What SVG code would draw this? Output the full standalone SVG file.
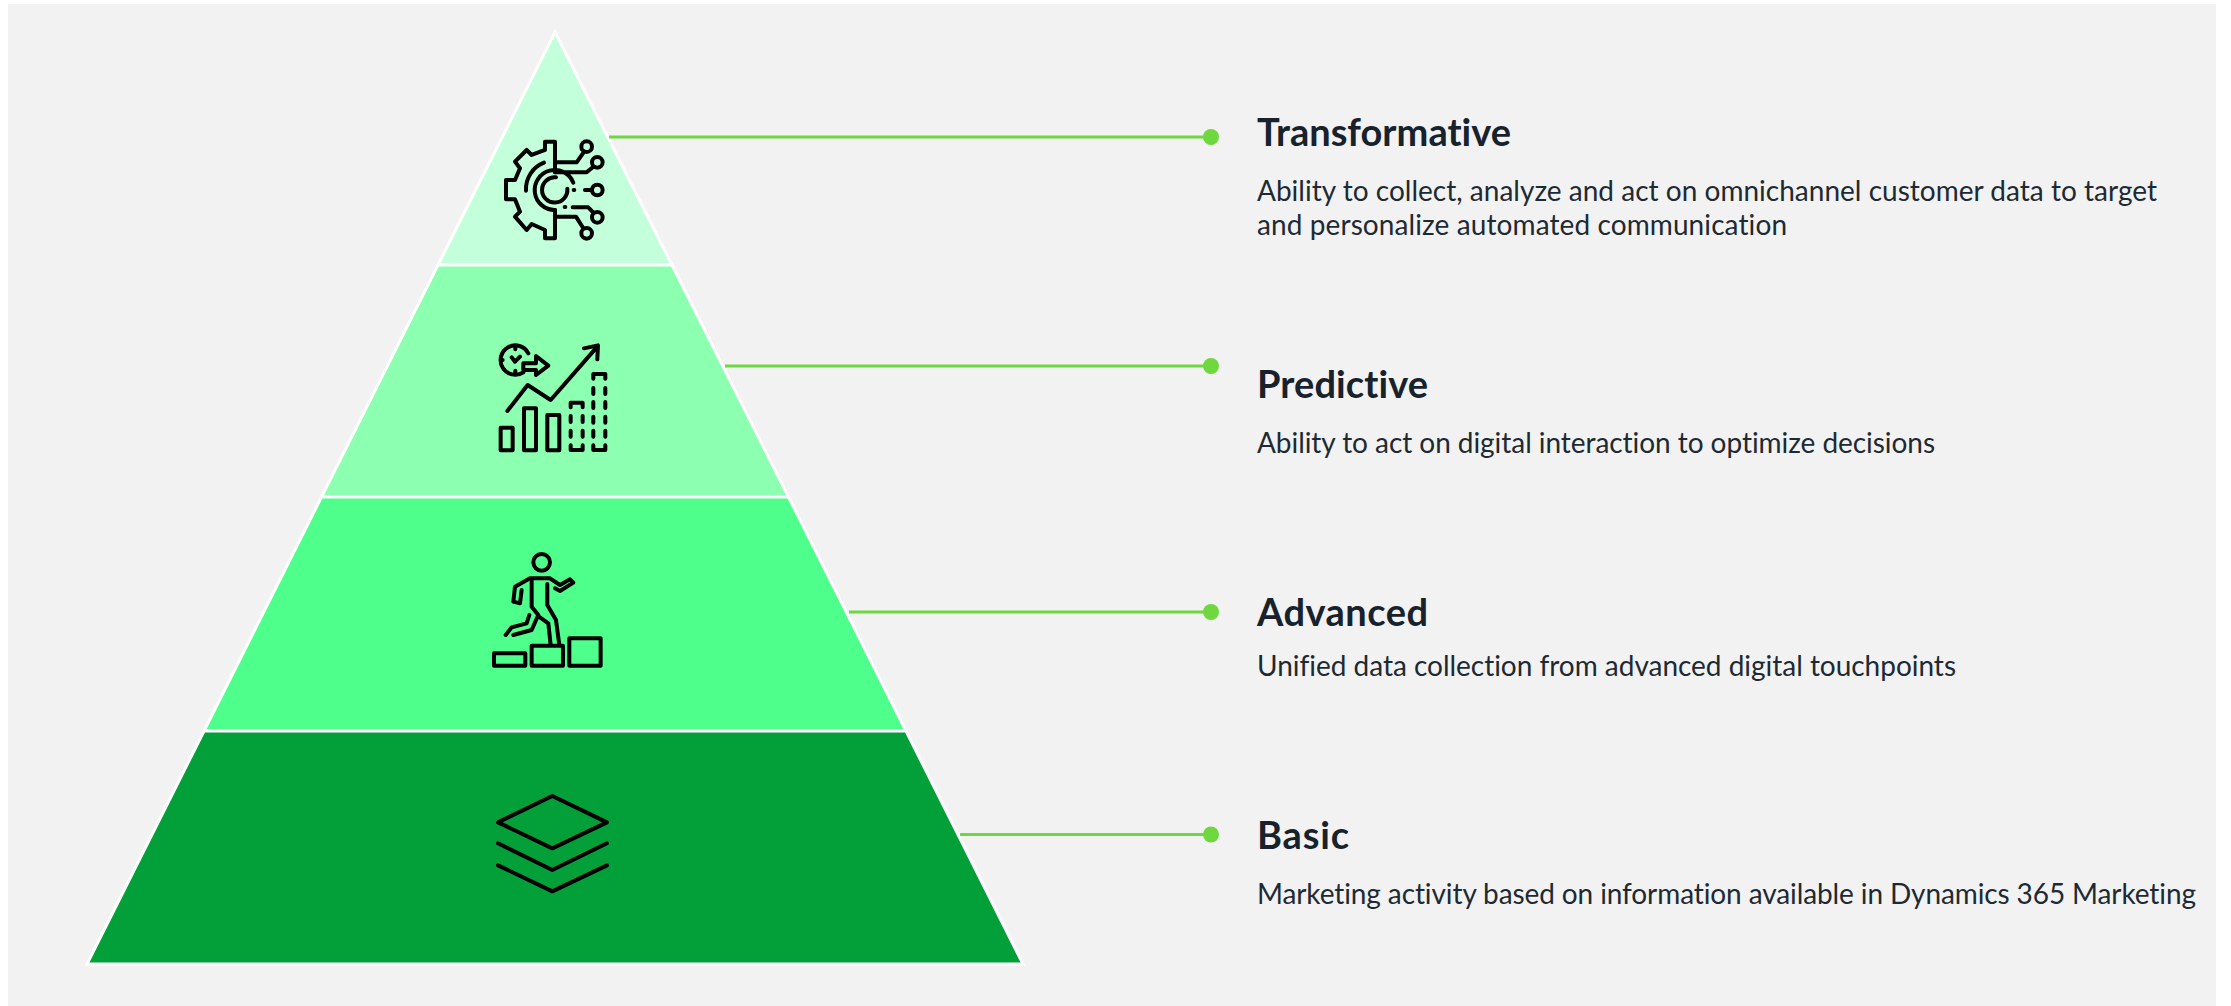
<svg xmlns="http://www.w3.org/2000/svg" width="2231" height="1006" viewBox="0 0 2231 1006">
<style>
.tier{stroke:#fff;stroke-width:3}
.ic{fill:none;stroke:#000;stroke-linecap:round;stroke-linejoin:round;stroke-width:12}
.conn{stroke:#6FD83F;stroke-width:3;fill:none}
.dot{fill:#6FD83F}
.title{font-family:"Lato","Open Sans",sans-serif;font-weight:700;font-size:38px;fill:#17222C;font-variant-ligatures:none}
.body{font-family:"Lato","Open Sans",sans-serif;font-size:28px;fill:#1E2A33;font-variant-ligatures:none}
</style>
<rect width="2231" height="1006" fill="#fff"/>
<rect x="8" y="4" width="2208" height="1002" fill="#F2F2F2"/>
<g id="tier-transformative">
<polygon class="tier" points="555,32 672,265 438,265" fill="#C3FFDA"/>
<g class="ic" transform="translate(420 0) scale(.3333)">
<path d="M405 425H375V450L335 465 320 450 285 485 300 505 285 540H258V598H285L300 635 285 650 320 690 335 672 375 690V715H405V630M405 425V517"/>
<path d="M405 487H470L493 454M405 517H500L520 500M372 488A85 85 0 0 0 318 572M460 548A60 60 0 1 0 405 630M408 532A38 38 0 1 0 442 566M461 570H463M495 570H515M434 621H436M458 622H505L520 638M405 650H468L490 685"/>
<circle cx="500" cy="440" r="16"/><circle cx="532" cy="487" r="16"/><circle cx="532" cy="570" r="16"/><circle cx="532" cy="652" r="16"/><circle cx="500" cy="700" r="16"/>
</g>
</g>
<g id="tier-predictive">
<polygon class="tier" points="438,265 672,265 788.500,497 321.500,497" fill="#8CFFB0"/>
<g class="ic" transform="translate(460 320) scale(.3333)">
<path d="M205 100A44 44 0 1 0 190 157M166 82V88M122 120H128M155 112L165 125 180 110M166 152V158"/>
<path d="M190 130H228V108L265 137 228 165V150H190Z"/>
<path d="M142 273L203 195 272 240 412 80M372 85L414 76 412 118"/>
<rect x="122" y="323" width="36" height="68"/><rect x="192" y="265" width="36" height="126"/><rect x="262" y="285" width="36" height="106"/>
<path d="M332 262V248H368V262M332 288V306M368 288V306M332 332V350M368 332V350M332 376V390H368V376"/>
<path d="M400 176V162H436V176M400 204V222M436 204V222M400 246V264M436 246V264M400 290V308M436 290V308M400 332V350M436 332V350M400 376V390H436V376"/>
</g>
</g>
<g id="tier-advanced">
<polygon class="tier" points="321.500,497 788.500,497 906,731 204,731" fill="#4EFF8C"/>
<g class="ic" transform="translate(460 540) scale(.3333)">
<circle cx="245" cy="67" r="25"/>
<path d="M215 120V200L235 225 215 270 160 285M208 225L200 250 155 262 137 285"/>
<path d="M160 185L165 140 210 115H270L300 135 330 118 340 128 300 153 285 145M160 185L180 190 185 150M262 132V195L288 240 298 315M240 232L265 250 272 315"/>
<rect x="102" y="340" width="94" height="37"/><rect x="215" y="317" width="94" height="60"/><rect x="328" y="295" width="94" height="82"/>
</g>
</g>
<g id="tier-basic">
<polygon class="tier" points="204,731 906,731 1023,964 87,964" fill="#03A03A"/>
<g class="ic" transform="translate(460 780) scale(.3333)">
<polygon points="277,48 441,127 277,205 114,127"/>
<path d="M114 190L277 270 441 190M114 256L277 334 441 256"/>
</g>
</g>
<g id="connectors">
<path class="conn" d="M609 137H1211M725 366H1211M849 612H1211M960 834.500H1211"/>
<circle class="dot" cx="1211" cy="137" r="8"/><circle class="dot" cx="1211" cy="366" r="8"/><circle class="dot" cx="1211" cy="612" r="8"/><circle class="dot" cx="1211" cy="834.500" r="8"/>
</g>
<g id="label-transformative">
<text class="title" x="1257" y="146" textLength="254">Transformative</text>
<text class="body" x="1257" y="201" textLength="900">Ability to collect, analyze and act on omnichannel customer data to target</text>
<text class="body" x="1257" y="235" textLength="530">and personalize automated communication</text>
</g>
<g id="label-predictive">
<text class="title" x="1257" y="398" textLength="171">Predictive</text>
<text class="body" x="1257" y="453" textLength="678">Ability to act on digital interaction to optimize decisions</text>
</g>
<g id="label-advanced">
<text class="title" x="1257" y="626" textLength="171">Advanced</text>
<text class="body" x="1257" y="676" textLength="699">Unified data collection from advanced digital touchpoints</text>
</g>
<g id="label-basic">
<text class="title" x="1257" y="849" textLength="92">Basic</text>
<text class="body" x="1257" y="904" textLength="939">Marketing activity based on information available in Dynamics 365 Marketing</text>
</g>
</svg>
